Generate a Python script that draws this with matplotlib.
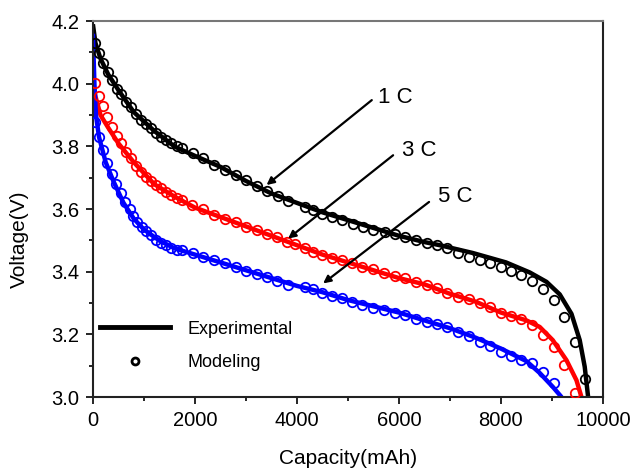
import matplotlib
matplotlib.use("Agg")
import matplotlib.pyplot as plt
from matplotlib.lines import Line2D
from matplotlib.ticker import MultipleLocator

plt.rcParams['font.family'] = ['Liberation Sans', 'DejaVu Sans']

# experimental curves (capacity mAh, voltage V)
exp_1c_cap = [0, 50, 150, 300, 500, 800, 1200, 1600, 2000, 2500, 3000, 3500, 4000, 4500, 5000,
              5500, 6000, 6500, 6800, 7450, 8100, 8565, 8893, 9153, 9383, 9545, 9643, 9710]
exp_1c_v = [4.19, 4.13, 4.08, 4.03, 3.98, 3.91, 3.85, 3.80, 3.77, 3.735, 3.69, 3.65, 3.62, 3.59, 3.565,
            3.54, 3.515, 3.495, 3.485, 3.460, 3.430, 3.398, 3.368, 3.328, 3.266, 3.182, 3.097, 3.0]

exp_3c_cap = [0, 50, 150, 300, 500, 800, 1200, 1600, 2000, 2500, 3000, 3500, 4000, 4500, 5000,
              5500, 6000, 6500, 7000, 7500, 8000, 8500, 8761, 9016, 9285, 9481, 9580]
exp_3c_v = [4.00, 3.96, 3.90, 3.86, 3.81, 3.75, 3.68, 3.64, 3.605, 3.575, 3.545, 3.515, 3.485, 3.455, 3.43,
            3.405, 3.38, 3.36, 3.33, 3.305, 3.27, 3.245, 3.224, 3.182, 3.118, 3.054, 3.0]

exp_5c_cap = [0, 30, 60, 120, 250, 400, 600, 800, 1000, 1300, 1600, 2000, 2500, 3000, 3500, 4000,
              4500, 5000, 5500, 6000, 6500, 7000, 7500, 8000, 8500, 8761, 9016, 9190]
exp_5c_v = [4.16, 4.00, 3.90, 3.83, 3.75, 3.69, 3.62, 3.57, 3.535, 3.50, 3.475, 3.455, 3.43, 3.405, 3.38, 3.355,
            3.335, 3.31, 3.29, 3.27, 3.245, 3.22, 3.19, 3.155, 3.115, 3.077, 3.033, 3.0]

# modeling points
mod_1c_cap = [39, 123, 202, 288, 367, 465, 543, 641, 739, 837, 935, 1033, 1131, 1229, 1327, 1431, 1535,
              1641, 1744, 1966, 2162, 2372, 2587, 2797, 2999, 3209, 3417, 3632, 3828, 4155, 4318, 4483,
              4679, 4875, 5090, 5298, 5494, 5723, 5919, 6115, 6331, 6541, 6737, 6933, 7160, 7375, 7585,
              7781, 7997, 8207, 8403, 8618, 8826, 9036, 9232, 9447, 9657]
mod_1c_v = [4.131, 4.099, 4.067, 4.038, 4.012, 3.985, 3.967, 3.942, 3.925, 3.905, 3.886, 3.871, 3.858,
            3.844, 3.831, 3.820, 3.810, 3.801, 3.794, 3.778, 3.762, 3.740, 3.724, 3.709, 3.693, 3.673,
            3.658, 3.642, 3.626, 3.607, 3.597, 3.586, 3.575, 3.565, 3.554, 3.544, 3.535, 3.528, 3.522,
            3.512, 3.503, 3.492, 3.485, 3.475, 3.459, 3.448, 3.437, 3.429, 3.416, 3.403, 3.389, 3.371,
            3.344, 3.310, 3.256, 3.177, 3.057]

mod_3c_cap = [39, 123, 202, 280, 367, 465, 543, 641, 739, 837, 935, 1033, 1131, 1229, 1327, 1431, 1535,
              1641, 1744, 1935, 2162, 2372, 2587, 2797, 2999, 3209, 3405, 3612, 3797, 3959, 4155, 4318,
              4483, 4679, 4875, 5071, 5267, 5494, 5704, 5919, 6115, 6331, 6541, 6737, 6933, 7160, 7375,
              7585, 7781, 7997, 8207, 8403, 8618, 8826, 9036, 9232, 9447]
mod_3c_v = [4.003, 3.961, 3.930, 3.894, 3.862, 3.835, 3.810, 3.783, 3.762, 3.737, 3.719, 3.703, 3.690,
            3.677, 3.666, 3.655, 3.645, 3.634, 3.629, 3.613, 3.599, 3.581, 3.570, 3.559, 3.544, 3.533,
            3.522, 3.510, 3.495, 3.488, 3.475, 3.464, 3.453, 3.443, 3.437, 3.427, 3.416, 3.408, 3.395,
            3.386, 3.379, 3.368, 3.357, 3.347, 3.332, 3.320, 3.312, 3.299, 3.288, 3.269, 3.259, 3.251,
            3.230, 3.198, 3.161, 3.102, 3.014]

mod_5c_cap = [39, 123, 202, 280, 367, 457, 543, 633, 725, 790, 868, 955, 1039, 1131, 1229, 1327, 1431,
              1535, 1641, 1744, 1966, 2162, 2372, 2587, 2797, 2999, 3209, 3405, 3612, 3816, 4155, 4318,
              4483, 4679, 4875, 5071, 5267, 5494, 5704, 5919, 6115, 6331, 6541, 6737, 6933, 7160, 7375,
              7585, 7781, 7997, 8207, 8403, 8618, 8826, 9036]
mod_5c_v = [3.879, 3.831, 3.788, 3.746, 3.712, 3.680, 3.650, 3.623, 3.599, 3.578, 3.559, 3.544, 3.531,
            3.517, 3.503, 3.492, 3.485, 3.476, 3.471, 3.469, 3.461, 3.448, 3.437, 3.427, 3.414, 3.403,
            3.392, 3.382, 3.371, 3.357, 3.353, 3.344, 3.333, 3.322, 3.315, 3.304, 3.294, 3.286, 3.278,
            3.269, 3.262, 3.251, 3.240, 3.233, 3.225, 3.208, 3.195, 3.177, 3.163, 3.145, 3.131, 3.120,
            3.108, 3.081, 3.044]

fig = plt.figure(figsize=(6.32, 4.70), dpi=100)
ax = fig.add_axes([0.147, 0.155, 0.807, 0.8])

for cap, v, c in [(exp_1c_cap, exp_1c_v, 'black'), (exp_3c_cap, exp_3c_v, '#ff0000'),
                  (exp_5c_cap, exp_5c_v, '#0000ff')]:
    ax.plot(cap, v, color=c, lw=3.2, solid_capstyle='butt', zorder=2)

for cap, v, c in [(mod_1c_cap, mod_1c_v, 'black'), (mod_3c_cap, mod_3c_v, '#ff0000'),
                  (mod_5c_cap, mod_5c_v, '#0000ff')]:
    ax.plot(cap, v, 'o', ms=6.8, mfc='none', mec=c, mew=1.3, zorder=3)

# rate labels with arrows
arrows = [("1 C", (5468, 3.948), (3405, 3.677), (5586, 3.957)),
          ("3 C", (5886, 3.772), (3828, 3.506), (6056, 3.788)),
          ("5 C", (6591, 3.623), (4514, 3.363), (6762, 3.641))]
for lab, tail, head, tpos in arrows:
    ax.annotate('', xy=head, xytext=tail,
                arrowprops=dict(arrowstyle='-|>', lw=1.6, color='black', mutation_scale=11,
                                shrinkA=0, shrinkB=0), zorder=4)
    ax.text(tpos[0], tpos[1], lab, fontsize=16, ha='left', va='center')

ax.set_xlim(0, 10000)
ax.set_ylim(3.0, 4.2)
ax.xaxis.set_major_locator(MultipleLocator(2000))
ax.xaxis.set_minor_locator(MultipleLocator(1000))
ax.yaxis.set_major_locator(MultipleLocator(0.2))
ax.yaxis.set_minor_locator(MultipleLocator(0.1))
ax.yaxis.set_major_formatter(plt.FormatStrFormatter('%.1f'))
ax.tick_params(which='major', direction='out', length=5, width=1.2, labelsize=14.5, pad=5)
ax.tick_params(which='minor', direction='out', length=3, width=1.2)
ax.tick_params(top=False, right=False, which='both')
for s in ['left', 'bottom', 'right']:
    ax.spines[s].set_linewidth(1.5)
    ax.spines[s].set_color('#222222')
ax.spines['top'].set_linewidth(1.5)
ax.spines['top'].set_color('#777777')

ax.set_xlabel('Capacity(mAh)', fontsize=15)
ax.set_ylabel('Voltage(V)', fontsize=15)
ax.xaxis.set_label_coords(0.5, -0.137)
ax.yaxis.set_label_coords(-0.125, 0.42)

handles = [Line2D([], [], color='black', lw=3.5),
           Line2D([], [], ls='none', marker='o', ms=5, mfc='none', mec='black', mew=2)]
ax.legend(handles, ['Experimental', 'Modeling'], loc='lower left', bbox_to_anchor=(0.013, 0.07),
          frameon=False, fontsize=13, handlelength=3.9, handletextpad=0.95, labelspacing=0.9,
          borderpad=0, borderaxespad=0)

fig.savefig('out.png', dpi=100)
